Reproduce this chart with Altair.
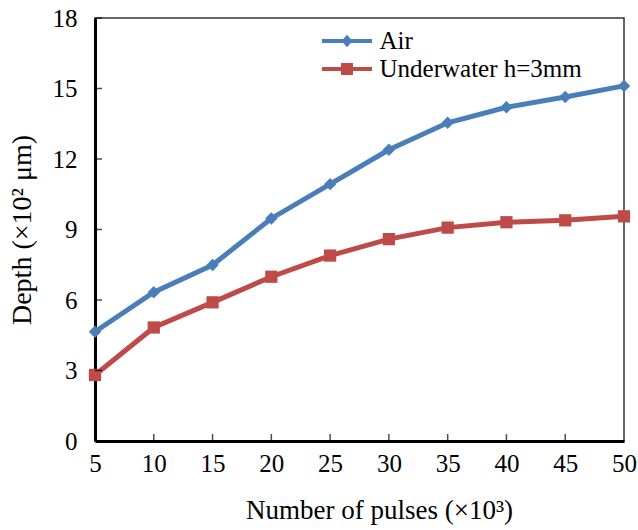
import altair as alt
import pandas as pd

# ---- data ----
pulses = [5, 10, 15, 20, 25, 30, 35, 40, 45, 50]
air = [4.65, 6.33, 7.49, 9.47, 10.93, 12.39, 13.54, 14.20, 14.64, 15.11]
underwater = [2.81, 4.83, 5.90, 6.99, 7.89, 8.59, 9.08, 9.31, 9.39, 9.56]
series_names = ["Air", "Underwater h=3mm"]
series_colors = ["#4A7EBB", "#BE4B48"]
x_label_values = [5, 10, 15, 20, 25, 30, 35, 40, 45, 50]
y_label_values = [0, 3, 6, 9, 12, 15, 18]
x_tick_values = [10, 15, 20, 25, 30, 35, 40, 45]
y_tick_values = [3, 6, 9, 12, 15, 18]

FONT = "Liberation Serif"

df = pd.DataFrame({
    "pulses": pulses * 2,
    "depth": air + underwater,
    "series": [series_names[0]] * len(pulses) + [series_names[1]] * len(pulses),
})
xt = pd.DataFrame({"v": x_tick_values})
yt = pd.DataFrame({"v": y_tick_values})

xscale = alt.Scale(domain=[5, 50], nice=False, zero=False)
yscale = alt.Scale(domain=[0, 18], nice=False, zero=False)

xaxis = alt.Axis(values=x_label_values, title="Number of pulses (×10³)", ticks=False, tickSize=0,
                 grid=False, domainColor="black", domainWidth=3, labelFont=FONT, labelFontSize=25,
                 labelColor="black", labelPadding=10, titleFont=FONT, titleFontSize=27,
                 titleFontWeight="normal", titleColor="black", titlePadding=21, labelFlush=False,
                 titleX=284)
yaxis = alt.Axis(values=y_label_values, title="Depth (×10² μm)", ticks=False, tickSize=0,
                 grid=False, domainColor="black", domainWidth=3, labelFont=FONT, labelFontSize=25,
                 labelColor="black", labelPadding=18, titleFont=FONT, titleFontSize=28,
                 titleFontWeight="normal", titleColor="black", titlePadding=16)


def X(field):
    return alt.X(field, scale=xscale, axis=xaxis)


def Y(field):
    return alt.Y(field, scale=yscale, axis=yaxis)


base = alt.Chart(df)

markers = ["diamond", "square"]
msizes = [155, 150]
layers = []
for name, col in zip(series_names, series_colors):
    layers.append(
        base.transform_filter(alt.datum.series == name).mark_line(color=col, strokeWidth=5).encode(
            x=X("pulses:Q"), y=Y("depth:Q"),
        )
    )
for name, col, shp, sz in zip(series_names, series_colors, markers, msizes):
    layers.append(
        base.transform_filter(alt.datum.series == name).mark_point(
            color=col, filled=True, opacity=1, shape=shp, size=sz, strokeWidth=0).encode(
            x=X("pulses:Q"), y=Y("depth:Q"),
        )
    )

# inward ticks
layers.append(
    alt.Chart(xt).mark_tick(orient="vertical", size=7, thickness=1.5, color="black", yOffset=-3.5).encode(
        x=X("v:Q"),
        y=alt.datum(0, scale=yscale, axis=yaxis),
    )
)
layers.append(
    alt.Chart(yt).mark_tick(orient="horizontal", size=7, thickness=1.5, color="black", xOffset=3.5).encode(
        y=Y("v:Q"),
        x=alt.datum(5, scale=xscale, axis=xaxis),
    )
)

# legend (line + marker symbols)
path_air = "M-2,-0.16H2V0.16H-2Z M0,-0.5L0.44,0L0,0.5L-0.44,0Z"
path_uw = "M-2,-0.16H2V0.16H-2Z M-0.48,-0.48H0.48V0.48H-0.48Z"
leg = alt.Legend(orient="none", legendX=239.5, legendY=10.5, title=None, labelFont=FONT,
                 labelFontSize=25, labelColor="black", symbolSize=625, symbolStrokeWidth=0,
                 labelOffset=20, rowPadding=2, padding=0, symbolOpacity=1, labelLimit=0)
layers.append(
    base.transform_filter("false").mark_point(filled=True, opacity=1).encode(
        x=X("pulses:Q"), y=Y("depth:Q"),
        color=alt.Color("series:N", scale=alt.Scale(domain=series_names, range=series_colors), legend=leg),
        shape=alt.Shape("series:N", scale=alt.Scale(domain=series_names, range=[path_air, path_uw]), legend=leg),
    )
)

chart = alt.layer(*layers).properties(
    width=529, height=423,
    padding={"left": 95, "top": 18, "right": 14, "bottom": 89},
    autosize=alt.AutoSizeParams(type="none"),
    background="white",
).configure_view(stroke="#333333", strokeWidth=1.5)

chart.save("out.html", embed_options={"renderer": "svg", "actions": False})
